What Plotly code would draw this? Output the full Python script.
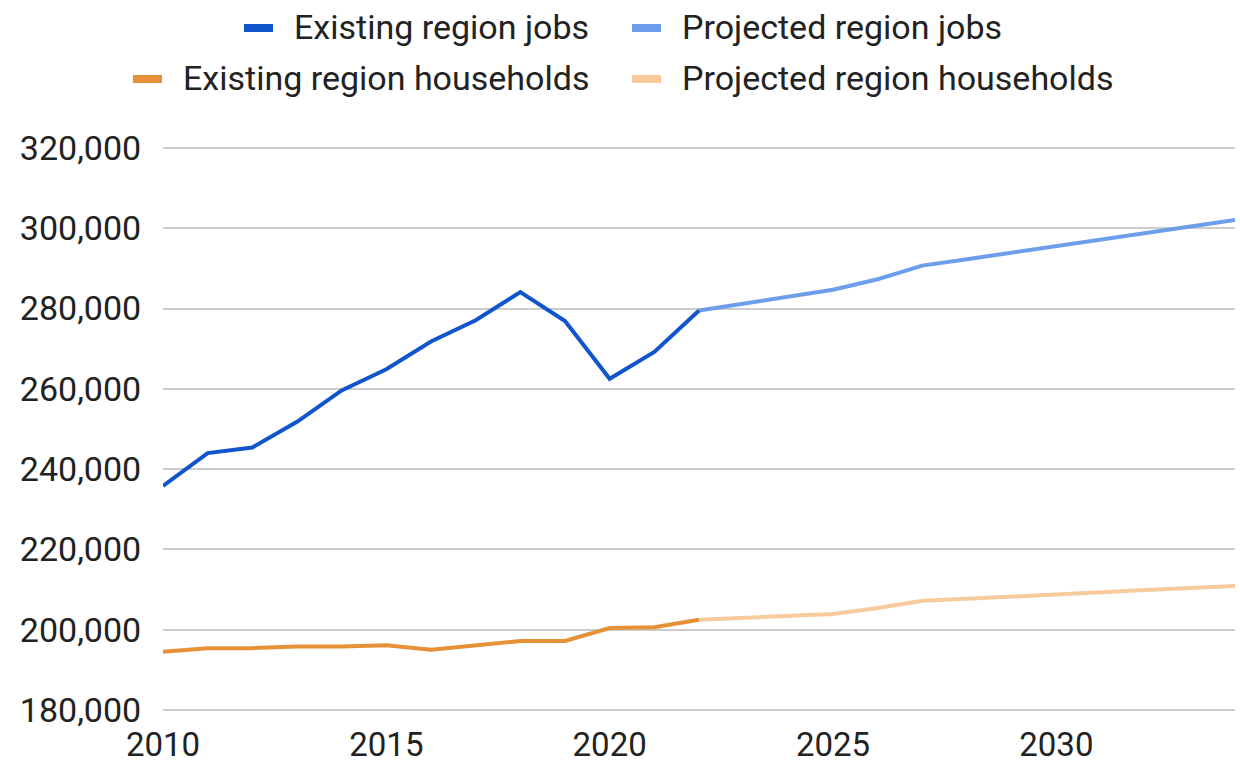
import plotly.graph_objects as go

# Annual series: observed (2010-2022) and projected (2022-2034)
years_existing = [2010, 2011, 2012, 2013, 2014, 2015, 2016, 2017, 2018, 2019, 2020, 2021, 2022]
years_projected = [2022, 2023, 2024, 2025, 2026, 2027, 2028, 2029, 2030, 2031, 2032, 2033, 2034]

jobs_existing = [235800, 244000, 245400, 251800, 259600, 264900, 271800,
                 277100, 284100, 276900, 262500, 269200, 279500]
jobs_projected = [279500, 281200, 282900, 284700, 287300, 290700, 292300,
                  293900, 295600, 297200, 298800, 300500, 302100]
households_existing = [194500, 195400, 195400, 195800, 195800, 196100, 195000,
                       196000, 197200, 197200, 200400, 200600, 202500]
households_projected = [202500, 202900, 203400, 203900, 205400, 207200, 207700,
                        208300, 208800, 209300, 209900, 210400, 210900]

series_names = ["Existing region jobs", "Projected region jobs",
                "Existing region households", "Projected region households"]
series_colors = ["#1155cc", "#6d9eeb", "#e69138", "#f9cb9c"]

x_ticks = [2010, 2015, 2020, 2025, 2030]
y_ticks = [180000, 200000, 220000, 240000, 260000, 280000, 300000, 320000]

W, H = 1240, 763
FONT = "Roboto"
TEXT_COLOR = "#222222"

# value span 320k..180k occupies pixel rows 148..710; the plot box is grown by a
# few pixels on each side so the outermost gridlines are not clipped
GRID_TOP, GRID_BOTTOM, PAD_PX = 148, 710, 4
M_L, M_R = 163, 5
M_T = GRID_TOP - PAD_PX
M_B = H - GRID_BOTTOM - PAD_PX
y_pad = PAD_PX * (y_ticks[-1] - y_ticks[0]) / (GRID_BOTTOM - GRID_TOP)

fig = go.Figure()
series = [
    (years_existing, jobs_existing),
    (years_projected, jobs_projected),
    (years_existing, households_existing),
    (years_projected, households_projected),
]
# draw projected first so observed segments sit on top at the join
for idx in [1, 3, 0, 2]:
    xs, ys = series[idx]
    fig.add_trace(go.Scatter(
        x=xs, y=ys, mode="lines", name=series_names[idx],
        line=dict(color=series_colors[idx], width=4),
        showlegend=False,
    ))

fig.update_layout(
    width=W, height=H,
    margin=dict(l=M_L, r=M_R, t=M_T, b=M_B),
    paper_bgcolor="white", plot_bgcolor="white",
    font=dict(family=FONT, color=TEXT_COLOR),
    xaxis=dict(
        range=[2010, 2034], tickvals=x_ticks, ticktext=[str(v) for v in x_ticks],
        showgrid=False, zeroline=False, showline=False, automargin=False,
        ticks="outside", ticklen=1, tickcolor="rgba(0,0,0,0)",
        tickfont=dict(size=33, family=FONT, color=TEXT_COLOR),
    ),
    yaxis=dict(
        range=[y_ticks[0] - y_pad, y_ticks[-1] + y_pad], tickvals=y_ticks,
        ticktext=[f"{v:,}" for v in y_ticks],
        showgrid=True, gridcolor="#cccccc", gridwidth=2,
        zeroline=False, showline=False, automargin=False,
        ticks="outside", ticklen=14, tickcolor="rgba(0,0,0,0)",
        tickfont=dict(size=34, family=FONT, color=TEXT_COLOR),
    ),
)

# Two-row legend drawn in pixel space above the plot
plot_w = W - M_L - M_R
plot_h = H - M_T - M_B


def px_x(px):
    return (px - M_L) / plot_w


def px_y(py):
    return (H - M_B - py) / plot_h


legend_items = [
    # (swatch left px, row center px, series index)
    (244, 28, 0),
    (632, 28, 1),
    (133, 79, 2),
    (632, 79, 3),
]
for left, cy, idx in legend_items:
    fig.add_shape(
        type="rect", xref="paper", yref="paper",
        x0=px_x(left), x1=px_x(left + 29),
        y0=px_y(cy + 4), y1=px_y(cy - 4),
        fillcolor=series_colors[idx], line=dict(width=0),
    )
    fig.add_annotation(
        xref="paper", yref="paper", x=px_x(left + 48), y=px_y(cy - 1),
        xanchor="left", yanchor="middle", showarrow=False,
        text=series_names[idx],
        font=dict(size=34, family=FONT, color=TEXT_COLOR),
    )

fig.write_html("out.html")
